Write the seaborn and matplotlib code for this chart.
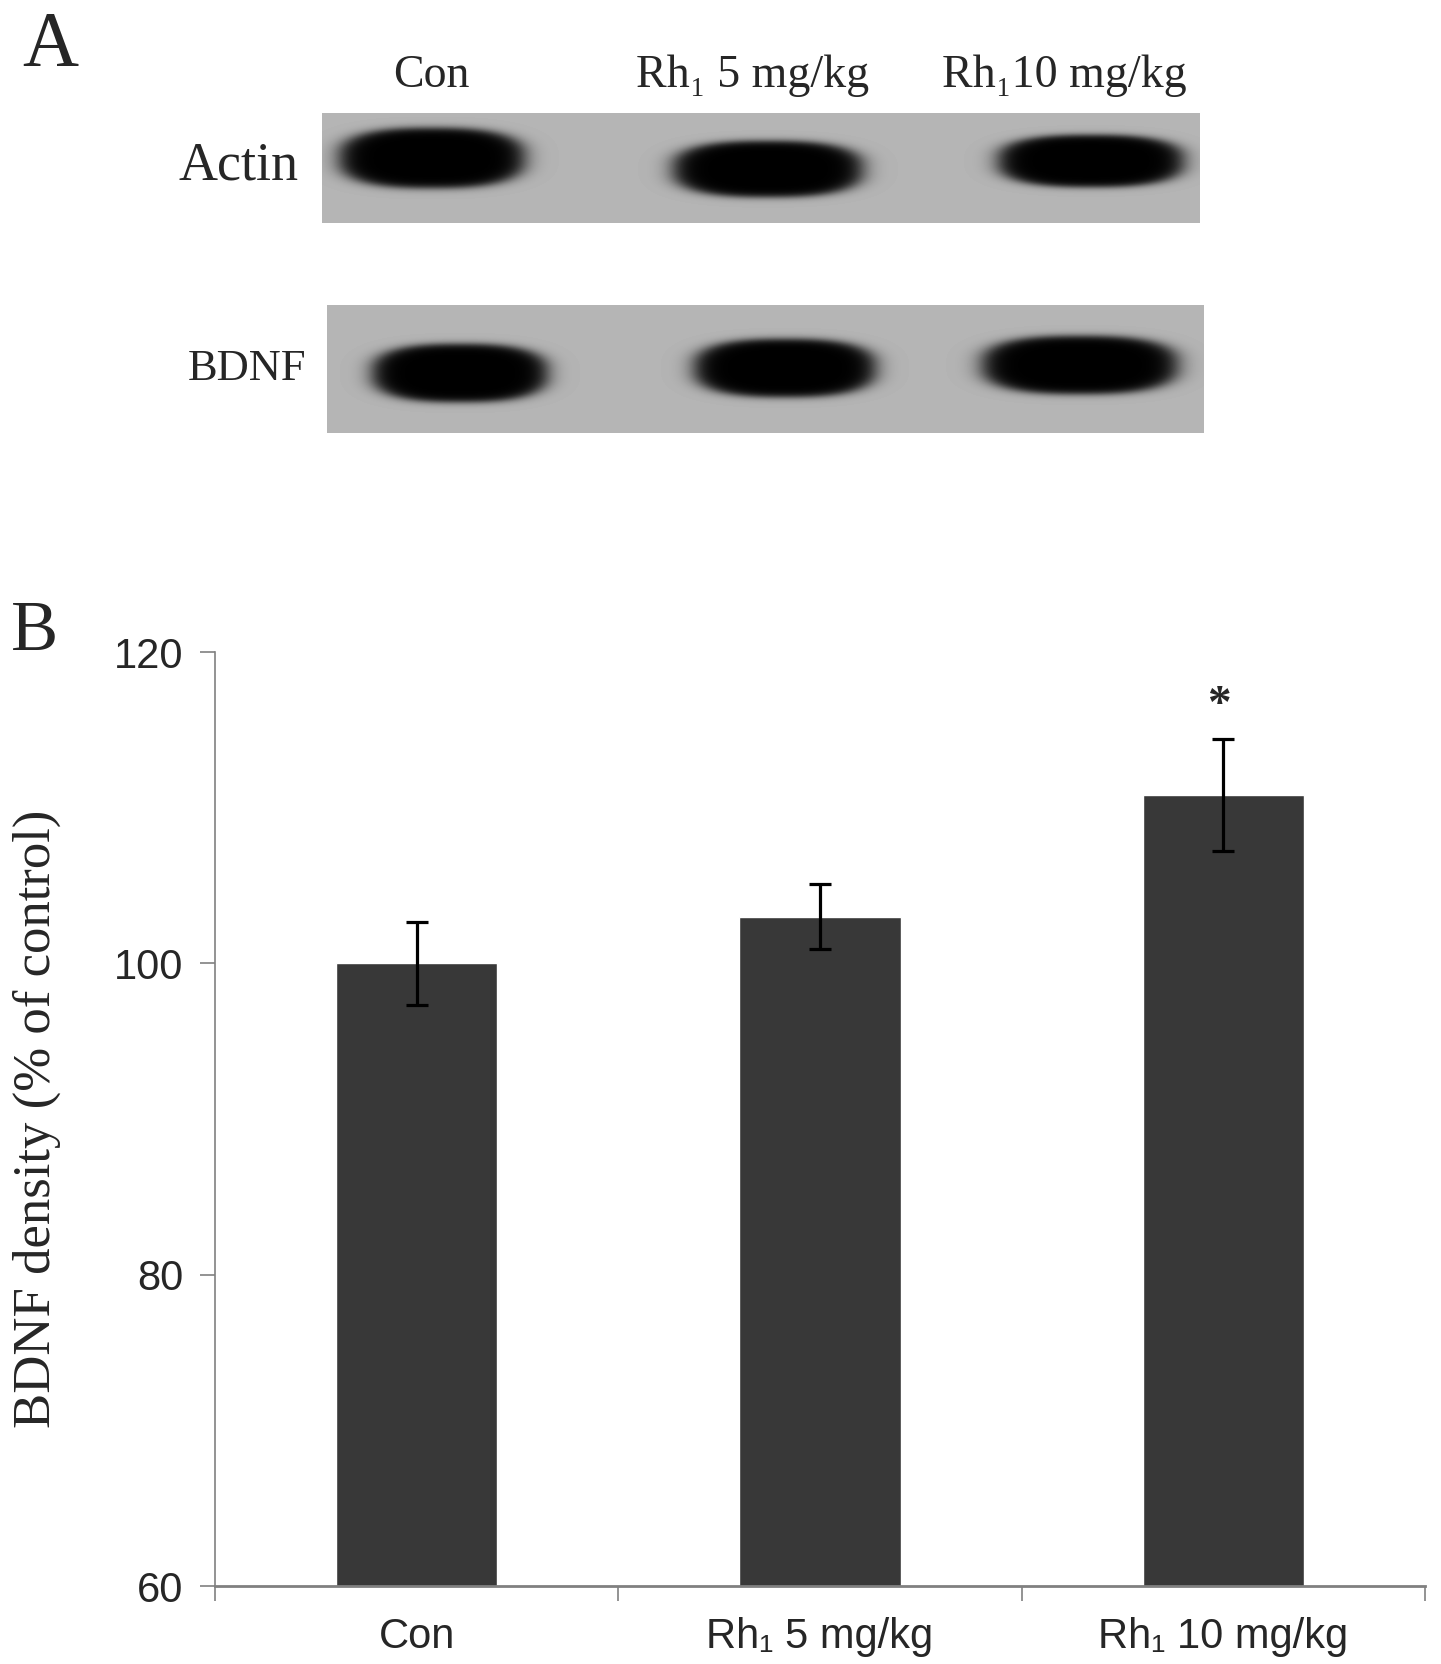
import numpy as np
import matplotlib
matplotlib.use("Agg")
import matplotlib.pyplot as plt
import seaborn as sns

W, H = 1441, 1664

# panel B data
groups = ["Con", "Rh\u2081 5 mg/kg", "Rh\u2081 10 mg/kg"]
means = [100.0, 103.0, 110.8]
sem = [2.65, 2.1, 3.6]
signif = ["", "", "*"]
yticks = [60, 80, 100, 120]

# panel A (blot) lanes
lane_labels = ["Con", "Rh\u2081 5 mg/kg", "Rh\u208110 mg/kg"]
actin_cx = [432, 768, 1091]
actin_cy = [158, 169, 161]
actin_hw = [92, 94, 92]
actin_hh = [30, 28, 26]
bdnf_cx = [460, 785, 1080]
bdnf_cy = [373, 368, 365]
bdnf_hw = [87, 90, 97]
bdnf_hh = [29, 29, 29]

BAR = "#383838"
AXIS = "#808080"
SERIF = ["Liberation Serif", "DejaVu Serif"]
SANS = ["Liberation Sans Narrow", "Liberation Sans", "DejaVu Sans"]

sns.set_style("white")
plt.rcParams["font.family"] = SANS


def px(x, y):
    return x / W, 1 - y / H


def blot(ax, box, cx, cy, hw, hh):
    x0, x1, y0, y1 = box
    xs = np.arange(x0, x1) + 0.5
    ys = np.arange(y0, y1) + 0.5
    X, Y = np.meshgrid(xs, ys)
    dens = np.zeros_like(X)
    for a, b, w, h in zip(cx, cy, hw, hh):
        d = (np.abs((X - a) / w) ** 2.6 + np.abs((Y - b) / h) ** 2.6) ** (1 / 2.6)
        dens = np.maximum(dens, 1 / (1 + np.exp((d - 1.0) / 0.07)))
    img = 0.71 * (1 - dens)
    ax.imshow(img, cmap="gray", vmin=0, vmax=1, extent=(x0, x1, y1, y0),
              interpolation="bilinear")


fig = plt.figure(figsize=(W / 100, H / 100), dpi=100)

# ---- panel A ----
axa = fig.add_axes([0, 1 - 470 / H, 1, 470 / H])
axa.set_xlim(0, W)
axa.set_ylim(470, 0)
axa.axis("off")
blot(axa, (322, 1200, 113, 223), actin_cx, actin_cy, actin_hw, actin_hh)
blot(axa, (327, 1204, 305, 433), bdnf_cx, bdnf_cy, bdnf_hw, bdnf_hh)
for x, lab in zip([431, 753, 1064], lane_labels):
    axa.text(x, 76, lab, ha="center", va="center", fontsize=33, family=SERIF)
axa.text(239, 166, "Actin", ha="center", va="center", fontsize=39, family=SERIF)
axa.text(247, 369, "BDNF", ha="center", va="center", fontsize=32, family=SERIF)
fig.text(*px(50, 46), "A", ha="center", va="center", fontsize=56, family=SERIF)
fig.text(*px(35, 633), "B", ha="center", va="center", fontsize=51, family=SERIF)

# ---- panel B ----
ax = fig.add_axes([215 / W, 1 - 1586 / H, (1425 - 215) / W, (1586 - 652) / H])
sns.barplot(x=groups, y=means, color=BAR, width=0.4, errorbar=None,
            saturation=1, ax=ax)
ax.errorbar(range(len(groups)), means, yerr=sem, fmt="none", ecolor="black",
            elinewidth=2.3, capsize=8, capthick=2.3)
for i, (m, s, t) in enumerate(zip(means, sem, signif)):
    if t:
        ax.text(i - 0.01, m + s + 2.1, t, ha="center", va="center",
                fontsize=34, fontweight="bold", family=SERIF)

ax.set_ylim(60, 120)
ax.set_xlim(-0.5, 2.5)
ax.set_yticks(yticks)
ax.set_xticks(range(len(groups)))
ax.set_xticklabels(groups)
ax.set_xticks([-0.5, 0.5, 1.5, 2.5], minor=True)
ax.tick_params(axis="x", which="major", length=0, pad=22, labelsize=30)
ax.tick_params(axis="x", which="minor", length=11, width=1.2, color=AXIS,
               direction="out", bottom=True)
ax.tick_params(axis="y", length=11, width=1.2, color=AXIS, direction="out",
               left=True, pad=12, labelsize=30)
for side in ["top", "right"]:
    ax.spines[side].set_visible(False)
ax.spines["left"].set_color(AXIS)
ax.spines["left"].set_linewidth(1.2)
ax.spines["bottom"].set_color(AXIS)
ax.spines["bottom"].set_linewidth(2)
ax.set_xlabel("")
ax.set_ylabel("")
fig.text(*px(37, 1119), "BDNF density (% of control)", rotation=90,
         ha="center", va="center", fontsize=38, family=SERIF)

fig.savefig("out.png", dpi=100)
